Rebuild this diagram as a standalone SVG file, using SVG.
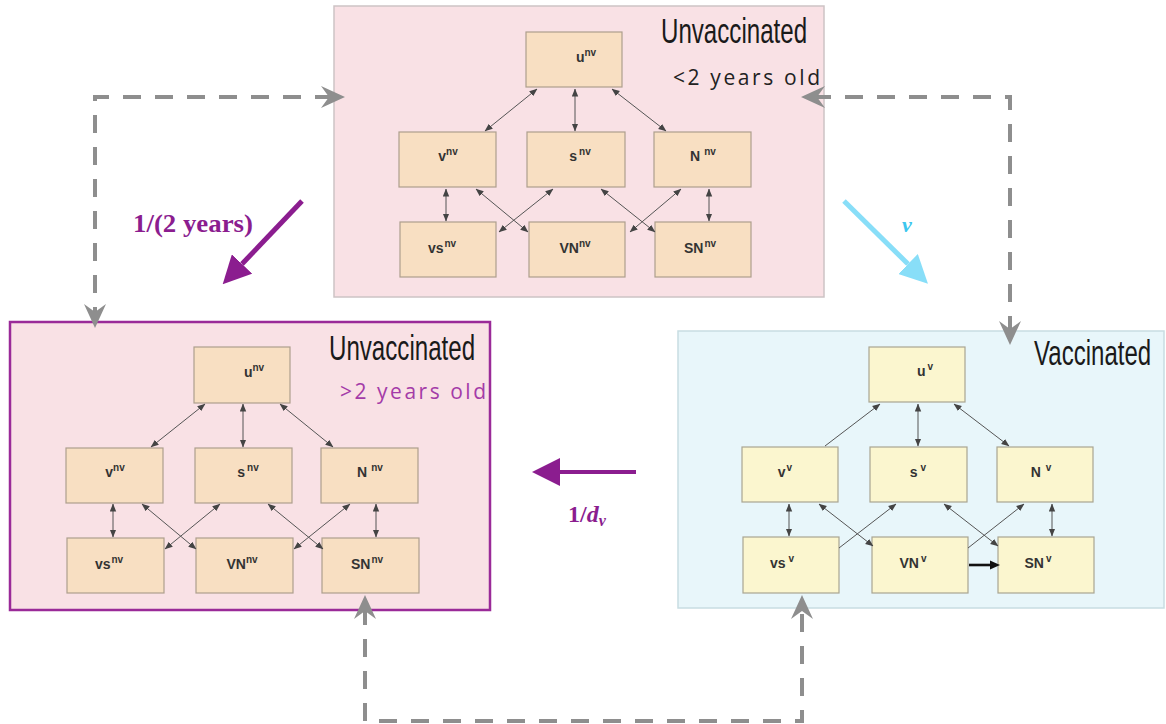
<svg xmlns="http://www.w3.org/2000/svg" width="1166" height="724" viewBox="0 0 1166 724">
<style>
.bx{fill:#f8dfc2;stroke:#ad9f8d;stroke-width:1.2}
.bxv{fill:#fbf6cf;stroke:#a9a592;stroke-width:1.2}
.lbl{font-family:"Liberation Sans",Arial,sans-serif;font-weight:bold;font-size:14px;fill:#333}
.sup{font-size:10px}
.ttl{font-family:"Liberation Sans",Arial,sans-serif;font-size:36px;fill:#1a1a1a}
.age{font-family:"Open Sans","Liberation Sans",sans-serif;font-size:21px}
.e{stroke:#555;stroke-width:1;fill:none;marker-start:url(#sm);marker-end:url(#sm)}
.e1{stroke:#555;stroke-width:1;fill:none;marker-end:url(#sm)}
.dash{stroke:#8e8e8e;stroke-width:4;fill:none;stroke-dasharray:18 14;marker-start:url(#chev);marker-end:url(#chev)}
.rate{font-family:"Liberation Serif","Times New Roman",serif;font-weight:bold}
</style>
<defs>
<marker id="sm" markerUnits="userSpaceOnUse" markerWidth="8" markerHeight="7" viewBox="0 0 8 7" refX="7.5" refY="3.5" orient="auto-start-reverse"><path d="M0,0.3 L8,3.5 L0,6.7 z" fill="#444"/></marker>
<marker id="chev" markerUnits="userSpaceOnUse" markerWidth="24" markerHeight="24" viewBox="0 0 24 24" refX="12" refY="12" orient="auto-start-reverse"><path d="M0,1 L24,12 L0,23 L8,12 z" fill="#8e8e8e"/></marker>
<marker id="hp" markerUnits="userSpaceOnUse" markerWidth="28" markerHeight="28" viewBox="0 0 28 28" refX="0" refY="14" orient="auto"><path d="M0,0 L28,14 L0,28 z" fill="#8b1d8f"/></marker>
<marker id="hc" markerUnits="userSpaceOnUse" markerWidth="28" markerHeight="28" viewBox="0 0 28 28" refX="0" refY="14" orient="auto"><path d="M0,0 L28,14 L0,28 z" fill="#88def8"/></marker>
<marker id="hb" markerUnits="userSpaceOnUse" markerWidth="10" markerHeight="10" viewBox="0 0 10 10" refX="0" refY="5" orient="auto"><path d="M0,0.5 L10,5 L0,9.5 z" fill="#111"/></marker>
</defs>
<rect width="1166" height="724" fill="#ffffff"/>

<!-- panels -->
<g id="panel-unvacc-young">
<rect x="334" y="6" width="490" height="291" fill="#f9e1e5" stroke="#cdc3c5" stroke-width="1.5"/>
<text class="ttl" transform="translate(661,43) scale(0.67,1)" x="0" y="0">Unvaccinated</text>
<text class="age" x="673" y="85" fill="#222" textLength="147" lengthAdjust="spacing">&lt;2 years old</text>
</g>
<g id="panel-unvacc-old">
<rect x="10" y="322" width="480" height="288" fill="#f9e1e5" stroke="#9a2a98" stroke-width="2.5"/>
<text class="ttl" transform="translate(329,360) scale(0.67,1)" x="0" y="0">Unvaccinated</text>
<text class="age" x="340" y="399" fill="#a43ba8" textLength="146" lengthAdjust="spacing">&gt;2 years old</text>
</g>
<g id="panel-vacc">
<rect x="678" y="331" width="486" height="277" fill="#e8f6fa" stroke="#c8dde2" stroke-width="1.5"/>
<text class="ttl" transform="translate(1034,365) scale(0.668,1)" x="0" y="0">Vaccinated</text>
</g>

<!-- top panel nodes -->
<g id="t-U"><rect class="bx" x="526" y="32" width="96" height="55"/><text class="lbl" x="586" y="62" text-anchor="middle">u<tspan class="sup" dy="-6">nv</tspan></text></g>
<g id="t-V"><rect class="bx" x="399" y="132" width="97" height="55"/><text class="lbl" x="448" y="161" text-anchor="middle">v<tspan class="sup" dy="-6">nv</tspan></text></g>
<g id="t-S"><rect class="bx" x="527" y="132" width="98" height="55"/><text class="lbl" x="580" y="161" text-anchor="middle">s<tspan class="sup" dy="-6" dx="2">nv</tspan></text></g>
<g id="t-N"><rect class="bx" x="654" y="132" width="97" height="55"/><text class="lbl" x="703" y="161" text-anchor="middle">N<tspan class="sup" dy="-6" dx="4">nv</tspan></text></g>
<g id="t-VS"><rect class="bx" x="400" y="222" width="96" height="55"/><text class="lbl" x="442" y="253" text-anchor="middle">vs<tspan class="sup" dy="-6" dx="1">nv</tspan></text></g>
<g id="t-VN"><rect class="bx" x="529" y="222" width="96" height="55"/><text class="lbl" x="575" y="253" text-anchor="middle">VN<tspan class="sup" dy="-6">nv</tspan></text></g>
<g id="t-SN"><rect class="bx" x="655" y="222" width="96" height="55"/><text class="lbl" x="700" y="253" text-anchor="middle">SN<tspan class="sup" dy="-6" dx="1">nv</tspan></text></g>

<!-- left panel nodes -->
<g id="l-U"><rect class="bx" x="194" y="347" width="96" height="56"/><text class="lbl" x="254" y="377" text-anchor="middle">u<tspan class="sup" dy="-6">nv</tspan></text></g>
<g id="l-V"><rect class="bx" x="66" y="448" width="97" height="55"/><text class="lbl" x="115" y="477" text-anchor="middle">v<tspan class="sup" dy="-6">nv</tspan></text></g>
<g id="l-S"><rect class="bx" x="195" y="448" width="97" height="55"/><text class="lbl" x="248" y="477" text-anchor="middle">s<tspan class="sup" dy="-6" dx="2">nv</tspan></text></g>
<g id="l-N"><rect class="bx" x="321" y="448" width="97" height="55"/><text class="lbl" x="370" y="477" text-anchor="middle">N<tspan class="sup" dy="-6" dx="4">nv</tspan></text></g>
<g id="l-VS"><rect class="bx" x="67" y="538" width="97" height="55"/><text class="lbl" x="109" y="569" text-anchor="middle">vs<tspan class="sup" dy="-6" dx="1">nv</tspan></text></g>
<g id="l-VN"><rect class="bx" x="196" y="538" width="97" height="55"/><text class="lbl" x="242" y="569" text-anchor="middle">VN<tspan class="sup" dy="-6">nv</tspan></text></g>
<g id="l-SN"><rect class="bx" x="322" y="538" width="97" height="55"/><text class="lbl" x="367" y="569" text-anchor="middle">SN<tspan class="sup" dy="-6" dx="1">nv</tspan></text></g>

<!-- right panel nodes -->
<g id="r-U"><rect class="bxv" x="869" y="347" width="96" height="55"/><text class="lbl" x="925" y="376" text-anchor="middle">u<tspan class="sup" dy="-6" dx="2">v</tspan></text></g>
<g id="r-V"><rect class="bxv" x="742" y="447" width="96" height="55"/><text class="lbl" x="785" y="477" text-anchor="middle">v<tspan class="sup" dy="-6" dx="1">v</tspan></text></g>
<g id="r-S"><rect class="bxv" x="870" y="447" width="97" height="55"/><text class="lbl" x="918" y="477" text-anchor="middle">s<tspan class="sup" dy="-6" dx="3">v</tspan></text></g>
<g id="r-N"><rect class="bxv" x="997" y="447" width="96" height="55"/><text class="lbl" x="1041" y="477" text-anchor="middle">N<tspan class="sup" dy="-6" dx="5">v</tspan></text></g>
<g id="r-VS"><rect class="bxv" x="743" y="537" width="96" height="56"/><text class="lbl" x="782" y="568" text-anchor="middle">vs<tspan class="sup" dy="-6" dx="3">v</tspan></text></g>
<g id="r-VN"><rect class="bxv" x="872" y="537" width="96" height="56"/><text class="lbl" x="913" y="568" text-anchor="middle">VN<tspan class="sup" dy="-6" dx="2">v</tspan></text></g>
<g id="r-SN"><rect class="bxv" x="998" y="537" width="96" height="56"/><text class="lbl" x="1038" y="568" text-anchor="middle">SN<tspan class="sup" dy="-6" dx="2">v</tspan></text></g>

<g id="connectors">
<!-- top panel -->
<line class="e" x1="537" y1="89" x2="485" y2="131"/>
<line class="e" x1="575" y1="89" x2="575" y2="131"/>
<line class="e" x1="612" y1="89" x2="666" y2="131"/>
<line class="e" x1="446" y1="189" x2="446" y2="221"/>
<line class="e" x1="476" y1="189" x2="528" y2="232"/>
<line class="e" x1="553" y1="189" x2="499" y2="232"/>
<line class="e" x1="601" y1="189" x2="655" y2="232"/>
<line class="e" x1="681" y1="189" x2="630" y2="232"/>
<line class="e" x1="709" y1="189" x2="709" y2="221"/>
<!-- left panel -->
<line class="e" x1="205" y1="404" x2="151" y2="447"/>
<line class="e" x1="243" y1="404" x2="243" y2="447"/>
<line class="e" x1="280" y1="404" x2="333" y2="447"/>
<line class="e" x1="113" y1="504" x2="113" y2="537"/>
<line class="e" x1="142" y1="504" x2="196" y2="549"/>
<line class="e" x1="220" y1="504" x2="165" y2="549"/>
<line class="e" x1="268" y1="504" x2="323" y2="549"/>
<line class="e" x1="350" y1="504" x2="294" y2="549"/>
<line class="e" x1="376" y1="504" x2="376" y2="537"/>
<!-- right panel -->
<line class="e1" x1="825" y1="446" x2="880" y2="404"/>
<line class="e" x1="918" y1="404" x2="918" y2="446"/>
<line class="e" x1="954" y1="404" x2="1009" y2="446"/>
<line class="e" x1="789" y1="504" x2="789" y2="536"/>
<line class="e" x1="819" y1="504" x2="873" y2="546"/>
<line class="e1" x1="839" y1="548" x2="896" y2="504"/>
<line class="e" x1="944" y1="504" x2="998" y2="546"/>
<line class="e1" x1="968" y1="548" x2="1024" y2="504"/>
<line class="e" x1="1052" y1="504" x2="1052" y2="536"/>
<line x1="969" y1="565" x2="990" y2="565" stroke="#111" stroke-width="2.6" marker-end="url(#hb)"/>

<!-- dashed transfers -->
<path class="dash" d="M333,97 L95,97 L95,316"/>
<path class="dash" d="M813,97 L1010,97 L1010,333"/>
<path class="dash" d="M365,607 L365,721 L802,721 L802,607"/>

<!-- rate arrows -->
<line x1="302" y1="201" x2="242" y2="264" stroke="#8b1d8f" stroke-width="5" marker-end="url(#hp)"/>
<line x1="844" y1="201" x2="908" y2="264" stroke="#88def8" stroke-width="5" marker-end="url(#hc)"/>
<line x1="636" y1="472" x2="560" y2="472" stroke="#8b1d8f" stroke-width="4" marker-end="url(#hp)"/>
</g>

<g id="rate-labels">
<text class="rate" x="133" y="232" font-size="25" fill="#8b1d8f" textLength="120" lengthAdjust="spacingAndGlyphs">1/(2 years)</text>
<text class="rate" x="902" y="232" font-size="22" font-style="italic" fill="#3cc6ee">ν</text>
<text class="rate" x="568" y="522" font-size="24" fill="#8b1d8f">1/<tspan font-style="italic">d</tspan><tspan font-style="italic" font-size="16" dy="4">v</tspan></text>
</g>
</svg>
